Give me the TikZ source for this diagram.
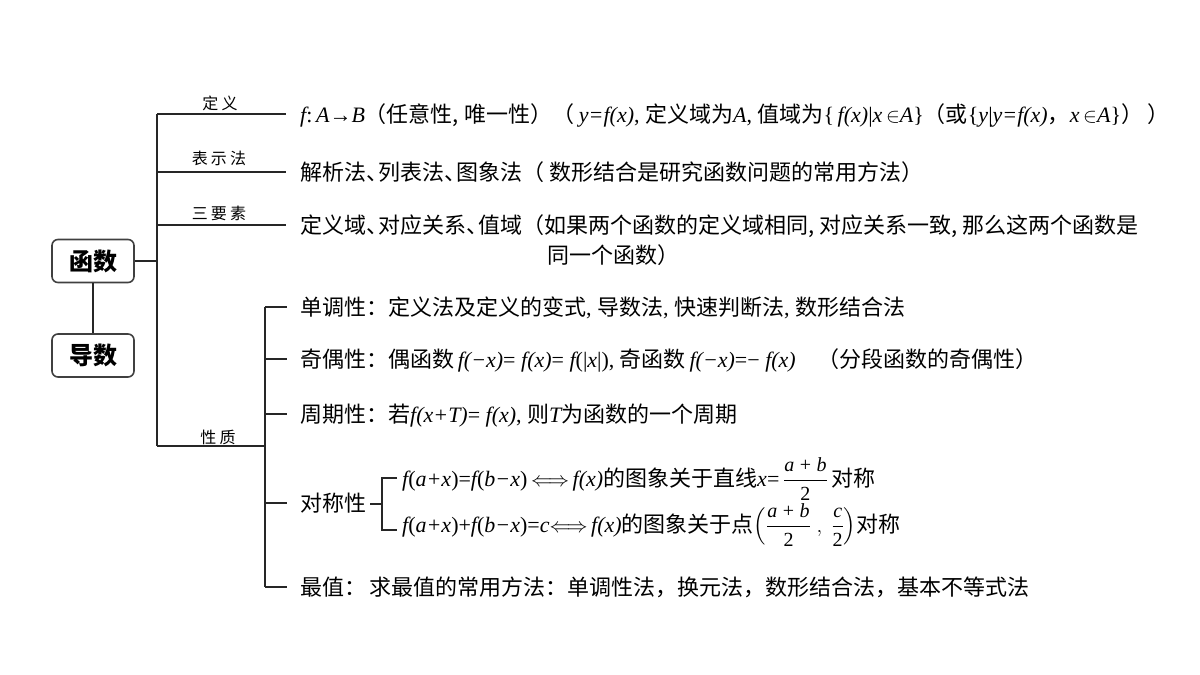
\documentclass[tikz,border=0pt]{standalone}
\usepackage{fontspec}
\usepackage{amsmath}
\setmainfont{Noto Sans CJK SC}
\newfontfamily\tms{Liberation Serif}
\newfontfamily\labf{Noto Sans CJK SC}[LetterSpace=20]
\newcommand\F[1]{{\tms\itshape #1}}
\newcommand\R[1]{{\tms #1}}
\newcommand\dun{\makebox[12pt][l]{、}}
\newcommand\fsm{\fontsize{20}{20}\selectfont}
\newcommand\Fr[2]{\genfrac{}{}{}{0}{\mbox{\fsm #1}}{\mbox{\fsm #2}}}
\newcommand\ab{\F{a}\;\R{+}\;\F{b}}
\begin{document}
\begin{tikzpicture}[x=1pt,y=-1pt,
  ln/.style={draw=black!85, line width=1.2pt},
  box/.style={draw=black!75, line width=1.6pt, rounded corners=6pt, minimum width=82pt, minimum height=43pt, inner sep=0pt, font=\fontsize{24}{24}\selectfont\bfseries},
  txt/.style={anchor=base west, inner sep=0pt, font=\fontsize{22}{26}\selectfont},
  lab/.style={anchor=base, inner sep=0pt, font=\labf\fontsize{16}{16}\selectfont}]
\useasboundingbox (0,0) rectangle (1200,675);

% boxes
\node[box] (fn) at (93,261) {函数};
\node[box] (ds) at (93,355.5) {导数};
\draw[ln] (fn) -- (ds);

% main trunk
\coordinate (tm) at (157,261);
\coordinate (t1) at (157,114);
\coordinate (t2) at (157,172);
\coordinate (t3) at (157,225);
\coordinate (t4) at (157,446);
\coordinate (e1) at (286,114);
\coordinate (e2) at (286,172);
\coordinate (e3) at (286,225);
\coordinate (e4) at (265,446);
\draw[ln] (fn.east) -- (tm);
\draw[ln] (t1) -- (t4);
\draw[ln] (t1) -- (e1);
\draw[ln] (t2) -- (e2);
\draw[ln] (t3) -- (e3);
\draw[ln] (t4) -- (e4);

\node[lab] (l1) at (220,109) {定义};
\node[lab] (l2) at (219,164) {表示法};
\node[lab] (l3) at (219,219) {三要素};
\node[lab] (l4) at (218,443) {性质};

% main texts
\node[txt] (d1) at (300,122) {\F{f}\R{:\,}\F{A}\R{→}\F{B}（任意性, 唯一性）（ \F{y=f(x)}\R{, }定义域为\F{A}\R{, }值域为\R{\{\,}\F{f(x)}\R{|}\F{x}\,$\in$\F{A}\R{\}}（或\R{\{}\F{y}\R{|}\F{y=f(x)}，\F{x}\,$\in$\F{A}\R{\}}）~）};
\node[txt] (d2) at (300,180) {解析法\dun 列表法\dun 图象法（ 数形结合是研究函数问题的常用方法）};
\node[txt] (d3) at (300,233) {定义域\dun 对应关系\dun 值域（如果两个函数的定义域相同, 对应关系一致, 那么这两个函数是};
\node[txt] (d3b) at (547,263) {同一个函数）};

% sub trunk
\coordinate (s1) at (265,307);
\coordinate (s2) at (265,359);
\coordinate (s3) at (265,414);
\coordinate (s4) at (265,503);
\coordinate (s5) at (265,587);
\coordinate (g1) at (287,307);
\coordinate (g2) at (287,359);
\coordinate (g3) at (287,414);
\coordinate (g4) at (287,503);
\coordinate (g5) at (287,587);
\draw[ln] (s1) -- (s5);
\draw[ln] (s1) -- (g1);
\draw[ln] (s2) -- (g2);
\draw[ln] (s3) -- (g3);
\draw[ln] (s4) -- (g4);
\draw[ln] (s5) -- (g5);

\node[txt] (p1) at (300,315) {单调性：定义法及定义的变式\R{, }导数法\R{, }快速判断法\R{, }数形结合法};
\node[txt] (p2) at (300,367) {奇偶性：偶函数\,\F{f(−x)}\R{= }\F{f(x)}\R{= }\F{f}\R{(|}\F{x}\R{|), }奇函数\,\F{f(−x)}\R{=− }\F{f(x)}\quad（分段函数的奇偶性）};
\node[txt] (p3) at (300,422) {周期性：若\F{f(x+T)}\R{= }\F{f(x)}\R{, }则\F{T}为函数的一个周期};
\node[txt] (p4) at (300,511) {对称性};
\node[txt] (p5) at (300,595) {最值：\,求最值的常用方法：单调性法，换元法，数形结合法，基本不等式法};

% symmetry bracket
\coordinate (k0) at (370,504);
\coordinate (k1) at (382,504);
\coordinate (kt) at (382,478);
\coordinate (kb) at (382,530);
\coordinate (kt2) at (397,478);
\coordinate (kb2) at (397,530);
\draw[ln] (k0) -- (k1);
\draw[ln] (kt2) -- (kt) -- (kb) -- (kb2);

\node[txt] (q1) at (402,486) {\F{f}\R{(}\F{a+x}\R{)=}\F{f}\R{(}\F{b−x}\R{)}\,$\Longleftrightarrow$\,\F{f(x)}的图象关于直线\F{x}\R{=}\,$\Fr{\ab}{\R{2}}$\,对称};
\node[txt] (q2) at (402,532) {\F{f}\R{(}\F{a+x}\R{)+}\F{f}\R{(}\F{b−x}\R{)=}\F{c}$\Longleftrightarrow$\,\F{f(x)}的图象关于点$\Bigl(\Fr{\ab}{\R{2}}\;,\;\Fr{\F{c}}{\R{2}}\Bigr)$对称};
\end{tikzpicture}
\end{document}
